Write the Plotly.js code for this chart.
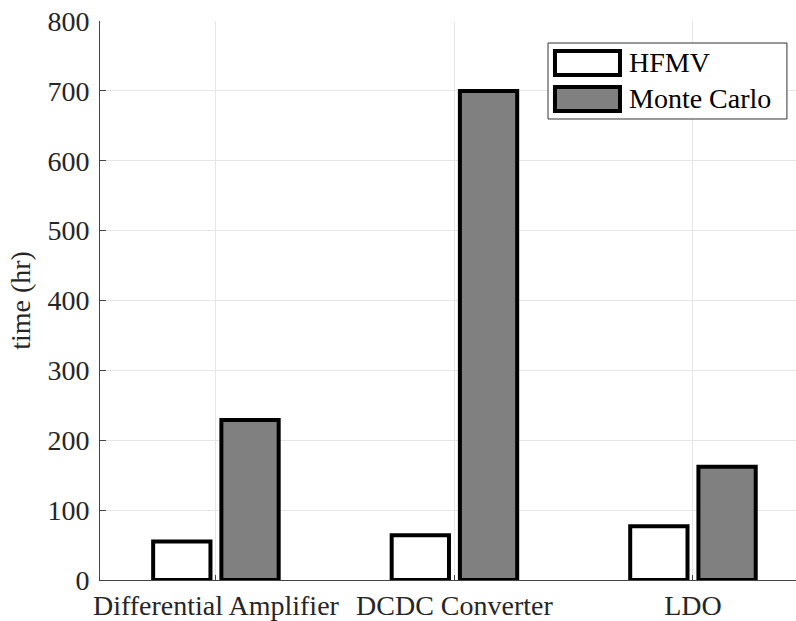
<!DOCTYPE html>
<html>
<head>
<meta charset="utf-8">
<script src="https://cdn.plot.ly/plotly-3.0.1.min.js"></script>
<style>html,body{margin:0;padding:0;background:#fff;}#chart{width:796px;height:621px;}</style>
</head>
<body>
<div id="chart"></div>
<script>
const categories = ["Differential Amplifier", "DCDC Converter", "LDO"];
const seriesNames = ["HFMV", "Monte Carlo"];
const hfmv = [55, 64, 77];
const monteCarlo = [229, 700, 162];
const yTicks = [0, 100, 200, 300, 400, 500, 600, 700, 800];

const fillColors = ["#ffffff", "#808080"];
const font = "'Liberation Serif'";

const traces = [
  {type: "bar", name: seriesNames[0], x: categories, y: hfmv,
   marker: {color: fillColors[0], line: {color: "#000", width: 4}}},
  {type: "bar", name: seriesNames[1], x: categories, y: monteCarlo,
   marker: {color: fillColors[1], line: {color: "#000", width: 4}}}
];

// custom legend (large swatches as in reference)
const L = {x0: 0.6437, x1: 0.987, y0: 0.8247, y1: 0.9606};
const sw = [
  {y0: 0.9034, y1: 0.9463, ty: 0.925},
  {y0: 0.839, y1: 0.882, ty: 0.8605}
];
const shapes = [
  {type: "rect", xref: "paper", yref: "paper", x0: L.x0, x1: L.x1, y0: L.y0, y1: L.y1,
   line: {color: "#333", width: 1}, fillcolor: "#fff"}
];
const annotations = [];
sw.forEach((s, i) => {
  shapes.push({type: "rect", xref: "paper", yref: "paper", x0: 0.6537, x1: 0.7471, y0: s.y0, y1: s.y1,
    line: {color: "#000", width: 4}, fillcolor: fillColors[i]});
  annotations.push({xref: "paper", yref: "paper", x: 0.757, y: s.ty, xanchor: "left", yanchor: "middle",
    text: seriesNames[i], showarrow: false, font: {family: font, size: 28, color: "#000"}});
});

const layout = {
  width: 796, height: 621,
  margin: {l: 100, r: 0, t: 21, b: 41},
  paper_bgcolor: "#fff", plot_bgcolor: "#fff",
  showlegend: false,
  barmode: "group", bargap: 0.428, bargroupgap: 0.16,
  font: {family: font, size: 28, color: "#262626"},
  xaxis: {
    type: "category", range: [-0.486, 2.432],
    showgrid: true, gridcolor: "#e6e6e6", gridwidth: 1,
    showline: true, linecolor: "#444", linewidth: 1,
    ticks: "inside", ticklen: 5, tickcolor: "#444",
    tickfont: {family: font, size: 28, color: "#262626"},
    zeroline: false, fixedrange: true
  },
  yaxis: {
    range: [0, 800], tickvals: yTicks, ticktext: yTicks.map(String),
    showgrid: true, gridcolor: "#e6e6e6", gridwidth: 1,
    showline: true, linecolor: "#444", linewidth: 1,
    ticks: "inside", ticklen: 6, tickcolor: "#444",
    ticklabelstandoff: 4,
    tickfont: {family: font, size: 28, color: "#262626"},
    zeroline: false,
    title: {text: "time (hr)", font: {family: font, size: 28, color: "#262626"}, standoff: 8}
  },
  shapes: shapes,
  annotations: annotations
};

Plotly.newPlot("chart", traces, layout, {displayModeBar: false, staticPlot: true});
</script>
</body>
</html>
